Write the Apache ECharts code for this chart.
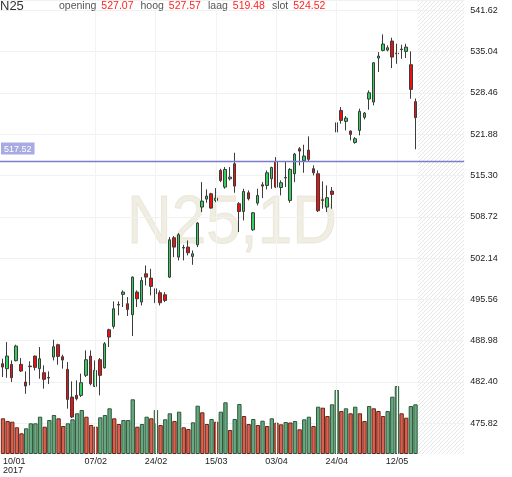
<!DOCTYPE html>
<html>
<head>
<meta charset="utf-8">
<script src="https://cdn.jsdelivr.net/npm/echarts@6/dist/echarts.min.js"></script>
<style>
  html, body { margin: 0; padding: 0; background: #fff; }
  #chart { width: 512px; height: 477px; }
</style>
</head>
<body>
<div id="chart"></div>
<script>
// trading days 10/01/2017 .. 18/05/2017
const dates = [
  '10/01', '11/01', '12/01', '13/01', '16/01', '17/01', '18/01', '19/01', '20/01', '23/01',
  '24/01', '25/01', '26/01', '27/01', '30/01', '31/01', '01/02', '02/02', '03/02', '06/02',
  '07/02', '08/02', '09/02', '10/02', '13/02', '14/02', '15/02', '16/02', '17/02', '20/02',
  '21/02', '22/02', '23/02', '24/02', '27/02', '28/02', '01/03', '02/03', '03/03', '06/03',
  '07/03', '08/03', '09/03', '10/03', '13/03', '14/03', '15/03', '16/03', '17/03', '20/03',
  '21/03', '22/03', '23/03', '24/03', '27/03', '28/03', '29/03', '30/03', '31/03', '03/04',
  '04/04', '05/04', '06/04', '07/04', '10/04', '11/04', '12/04', '13/04', '18/04', '19/04',
  '20/04', '21/04', '24/04', '25/04', '26/04', '27/04', '28/04', '02/05', '03/05', '04/05',
  '05/05', '08/05', '09/05', '10/05', '11/05', '12/05', '15/05', '16/05', '17/05', '18/05'
];
// empty slots on the right (hatched)
const future = ['19/05', '22/05', '23/05', '24/05', '25/05', '26/05', '29/05', '30/05', '31/05', '01/06'];

const open = [
  485.31, 484.52, 485.21, 485.79, 485.21, 482.39, 484.94, 486.53, 484.52, 483.88,
  483.12, 486.38, 488.34, 486.43, 484.41, 480.00, 480.27, 480.27, 483.46, 486.53,
  481.70, 485.95, 484.68, 490.73, 491.26, 494.76, 496.36, 494.87, 493.12, 496.73,
  495.13, 499.64, 498.95, 497.26, 496.62, 496.30, 499.11, 505.38, 502.30, 503.84,
  503.89, 502.41, 504.26, 510.27, 511.54, 512.39, 511.33, 516.11, 513.45, 514.78,
  517.17, 510.80, 509.57, 512.55, 506.65, 510.90, 513.82, 513.72, 514.78, 517.54,
  513.40, 514.98, 511.33, 515.58, 519.56, 517.65, 519.35, 516.38, 515.58, 511.45,
  510.27, 512.82, 522.22, 525.67, 523.92, 522.38, 520.57, 522.48, 524.56, 527.48,
  527.00, 534.01, 535.23, 535.28, 536.72, 534.80, 535.44, 535.07, 532.95, 527.07
];
const high = [
  486.11, 488.76, 485.84, 488.34, 486.22, 484.09, 485.69, 486.60, 487.97, 485.05,
  484.09, 489.14, 488.50, 486.75, 485.58, 482.50, 482.66, 483.72, 487.44, 487.44,
  485.84, 486.22, 488.76, 490.89, 495.24, 495.24, 497.00, 495.93, 499.20, 497.00,
  499.11, 500.97, 500.44, 497.52, 496.99, 496.72, 505.48, 505.65, 506.12, 504.26,
  504.95, 503.36, 507.88, 514.25, 513.08, 512.55, 513.29, 516.37, 516.64, 516.64,
  518.92, 511.06, 513.19, 512.92, 509.47, 513.19, 514.25, 516.11, 516.70, 518.23,
  514.52, 517.44, 516.48, 518.90, 519.83, 520.20, 521.53, 516.91, 516.11, 514.36,
  513.72, 513.46, 525.14, 526.20, 524.77, 522.48, 521.42, 525.94, 525.41, 528.86,
  533.37, 534.96, 537.78, 536.03, 537.25, 536.29, 536.13, 536.29, 535.07, 527.57
];
const low = [
  483.19, 483.08, 482.39, 485.69, 483.99, 480.53, 481.86, 484.25, 482.92, 481.33,
  482.07, 485.84, 485.15, 484.52, 478.15, 476.66, 479.47, 480.00, 483.19, 481.86,
  481.60, 480.27, 484.52, 487.97, 490.89, 493.01, 494.34, 492.91, 489.72, 494.34,
  494.60, 497.79, 496.20, 494.33, 494.60, 495.13, 498.95, 502.30, 501.77, 501.77,
  502.57, 501.08, 503.89, 509.47, 510.96, 510.00, 511.06, 514.25, 513.19, 514.51,
  512.55, 506.28, 508.14, 511.33, 506.49, 510.53, 511.70, 513.09, 513.19, 513.29,
  512.13, 513.46, 510.96, 514.25, 516.91, 515.74, 517.55, 515.32, 509.48, 510.01,
  509.48, 510.01, 520.89, 523.55, 522.48, 520.89, 520.36, 521.69, 524.24, 525.78,
  526.47, 531.78, 535.07, 535.07, 532.41, 533.10, 533.90, 534.01, 527.53, 519.48
];
const close = [
  484.78, 486.53, 483.08, 488.13, 484.15, 481.76, 484.84, 484.73, 486.11, 482.82,
  483.04, 488.02, 486.48, 485.90, 479.63, 476.82, 479.74, 482.29, 485.95, 482.13,
  484.25, 483.46, 488.50, 489.56, 494.07, 494.66, 496.73, 493.97, 499.12, 495.67,
  498.58, 499.11, 497.63, 495.03, 495.03, 495.40, 505.06, 503.89, 505.86, 503.74,
  502.99, 502.83, 507.72, 511.22, 512.02, 510.11, 511.70, 514.51, 516.27, 515.04,
  513.61, 509.57, 512.76, 511.59, 509.36, 512.12, 513.61, 515.73, 516.58, 513.45,
  514.15, 514.90, 516.27, 518.71, 519.19, 518.40, 517.87, 515.74, 509.69, 511.33,
  511.76, 512.29, 523.71, 524.08, 524.45, 521.85, 521.16, 525.51, 525.25, 528.48,
  533.26, 534.33, 536.24, 535.65, 534.17, 534.70, 535.34, 535.76, 529.02, 524.52
];
const volume = [
  35.7, 33.0, 32.3, 26.7, 20.7, 25.7, 30.7, 30.7, 37.3, 27.3,
  34.0, 39.0, 35.7, 28.0, 30.7, 34.7, 40.7, 44.0, 37.3, 29.0,
  27.3, 36.7, 39.0, 45.7, 35.7, 30.0, 34.0, 34.0, 54.7, 27.3,
  30.0, 37.3, 35.7, 44.0, 29.0, 34.7, 40.7, 33.0, 42.3, 26.7,
  25.0, 31.7, 48.3, 41.7, 30.0, 35.0, 32.3, 42.3, 51.7, 24.0,
  35.0, 50.0, 38.0, 30.0, 35.0, 29.0, 33.3, 28.0, 35.7, 31.3,
  29.7, 32.0, 31.5, 33.0, 24.7, 34.7, 37.3, 28.0, 47.3, 46.3,
  38.0, 49.7, 64.0, 43.0, 45.7, 40.7, 47.3, 40.7, 33.0, 48.0,
  45.7, 43.0, 38.0, 43.0, 57.3, 68.0, 40.7, 36.3, 48.0, 49.7
];
const labelIdx = [0, 20, 33, 46, 59, 72, 85];
const lineLevel = 517.52;

const cats = dates.concat(future);
const last = dates.length - 1;

const candles = dates.map((d, i) => [open[i], close[i], low[i], high[i]]);
const volBars = volume.map((v, i) => {
  const up = i > 0 && v >= volume[i - 1];
  return {
    value: v,
    itemStyle: up
      ? { color: 'rgba(88,158,114,0.9)', borderColor: '#2c5a3a' }
      : { color: 'rgba(214,80,60,0.9)', borderColor: '#6a2418' }
  };
});

const vLines = labelIdx.slice(1).map(i => ({ xAxis: dates[i] }));

const header =
  '{l|opening}{v|' + open[last].toFixed(2) + '}' +
  '{l|hoog}{v|' + high[last].toFixed(2) + '}' +
  '{l|laag}{v|' + low[last].toFixed(2) + '}' +
  '{l|slot}{v|' + close[last].toFixed(2) + '}';

const chart = echarts.init(document.getElementById('chart'));

const option = {
  animation: false,
  textStyle: { fontFamily: 'Liberation Sans, Arial, sans-serif' },
  title: [
    {
      text: 'N25', left: 0, top: 0, padding: 0,
      textStyle: { fontSize: 13, fontWeight: 'normal', color: '#333' }
    },
    {
      text: header, left: 59, top: 1, padding: 0,
      textStyle: {
        fontWeight: 'normal',
        rich: {
          l: { fontSize: 10.5, fontWeight: 'normal', color: '#555', padding: [0, 5, 0, 0] },
          v: { fontSize: 10.5, fontWeight: 'normal', color: '#f22', padding: [0, 7, 0, 0] }
        }
      }
    }
  ],
  graphic: [
    {
      id: 'wm',
      type: 'text',
      x: 232, y: 224, scaleX: 0.91, z: 0, silent: true,
      style: {
        text: 'N25,1D',
        font: 'normal 68px Liberation Sans, Arial, sans-serif',
        fill: 'rgba(228,222,204,0.55)',
        stroke: 'rgba(205,196,170,0.35)',
        lineWidth: 1,
        align: 'center',
        verticalAlign: 'middle'
      }
    }
  ],
  grid: [
    { left: -1.13, right: 47.83, top: 0, bottom: 53.7 },
    { left: -1.13, right: 47.83, top: 294, bottom: 23 }
  ],
  xAxis: [
    {
      type: 'category', gridIndex: 0, data: cats, boundaryGap: true,
      axisLine: { show: false }, axisTick: { show: false },
      axisLabel: { show: false }, splitLine: { show: false }
    },
    {
      type: 'category', gridIndex: 1, data: cats, boundaryGap: true,
      axisLine: { show: false }, axisTick: { show: false }, splitLine: { show: false },
      axisLabel: {
        interval: (i) => labelIdx.includes(i),
        formatter: (v, i) => (i === 0 ? v + '\n2017' : v),
        fontSize: 9, color: '#222', margin: 3, lineHeight: 9,
        verticalAlign: 'top',
        alignMinLabel: 'left'
      }
    }
  ],
  yAxis: [
    {
      type: 'value', gridIndex: 0, position: 'right',
      min: 475.82, max: 543.26, interval: 6.58,
      axisLine: { show: false }, axisTick: { show: false },
      splitLine: { lineStyle: { color: '#f1f1f1' } },
      axisLabel: {
        fontSize: 9, color: '#222', margin: 6,
        showMaxLabel: false,
        formatter: (v) => v.toFixed(2)
      }
    },
    {
      type: 'value', gridIndex: 1, min: 0, max: 160,
      show: false, splitLine: { show: false }
    }
  ],
  series: [
    {
      type: 'candlestick',
      xAxisIndex: 0, yAxisIndex: 0,
      data: candles,
      barWidth: 3,
      itemStyle: {
        color: '#2fd35c', color0: '#ee1010',
        borderColor: '#3c3c3c', borderColor0: '#3c3c3c', borderWidth: 1
      },
      markLine: {
        silent: true, symbol: 'none',
        label: { show: false },
        lineStyle: { color: '#f3f3f3', width: 1, type: 'solid' },
        data: vLines.concat([
          {
            yAxis: lineLevel,
            lineStyle: { color: '#7b7bd0', width: 1.4, type: 'solid' },
            label: {
              show: true, position: 'insideStartTop', distance: [1, 7],
              formatter: lineLevel.toFixed(2),
              backgroundColor: '#a9a9e4', color: '#fff', fontSize: 9,
              padding: [2, 3, 1, 3]
            }
          },
          {
            yAxis: close[last],
            lineStyle: { opacity: 0 },
            label: {
              show: true, position: 'end', distance: 3,
              formatter: close[last].toFixed(2),
              backgroundColor: '#ff0000', color: '#fff', fontSize: 10,
              padding: [1, 6, 1, 6], borderRadius: 2
            }
          }
        ])
      }
    },
    {
      type: 'bar',
      xAxisIndex: 1, yAxisIndex: 1,
      data: volBars,
      barCategoryGap: '6%',
      itemStyle: { borderWidth: 1 },
      markLine: {
        silent: true, symbol: 'none',
        label: { show: false },
        lineStyle: { color: '#f3f3f3', width: 1, type: 'solid' },
        data: vLines
      }
    }
  ]
};
chart.setOption(option);

// hatched area over the empty slots on the right
const hatch = document.createElement('canvas');
hatch.width = 4; hatch.height = 4;
const ctx = hatch.getContext('2d');
ctx.strokeStyle = '#e6e6e6';
ctx.lineWidth = 1;
ctx.beginPath();
ctx.moveTo(0, 4); ctx.lineTo(4, 0);
ctx.moveTo(-1, 1); ctx.lineTo(1, -1);
ctx.moveTo(3, 5); ctx.lineTo(5, 3);
ctx.stroke();

const x89 = chart.convertToPixel({ xAxisIndex: 1 }, cats[last]);
const x90 = chart.convertToPixel({ xAxisIndex: 1 }, cats[last + 1]);
const xEnd = chart.convertToPixel({ xAxisIndex: 1 }, cats[cats.length - 1]);
const half = (x90 - x89) / 2;
const yTop = chart.convertToPixel({ yAxisIndex: 0 }, 543.26);
const yBot = chart.convertToPixel({ yAxisIndex: 1 }, 0);

chart.setOption({
  graphic: [
    {
      id: 'hatch',
      type: 'rect', z: 0, silent: true,
      shape: { x: x89 + half, y: yTop, width: xEnd + half - (x89 + half), height: yBot - yTop },
      style: { fill: { image: hatch, repeat: 'repeat' } }
    }
  ]
});
</script>
</body>
</html>
